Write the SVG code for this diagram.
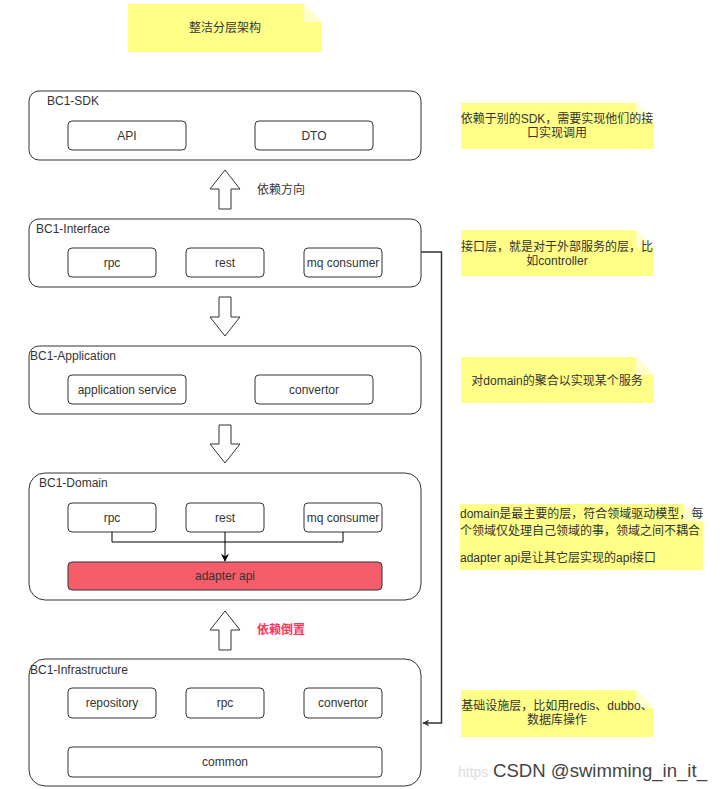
<svg xmlns="http://www.w3.org/2000/svg" width="720" height="789" viewBox="0 0 720 789">
<style>
.t{font-family:"Liberation Sans","Noto Sans CJK SC",sans-serif;font-size:12px;fill:#333;}
.c{text-anchor:middle;dominant-baseline:central;}
.l{dominant-baseline:central;}
.outer{fill:#fff;stroke:#333;stroke-width:1;}
.inner{fill:#fff;stroke:#333;stroke-width:1;}
.note{fill:#ffff88;}
.fold{fill:#ffffcc;}
.harrow{fill:#fff;stroke:#333;stroke-width:1;}
.conn{fill:none;stroke:#333;stroke-width:1.5;}
.conn1{fill:none;stroke:#000;stroke-width:1;}
</style>
<defs>
<marker id="ah" viewBox="0 0 10 10" refX="9" refY="5" markerWidth="7" markerHeight="7" orient="auto" markerUnits="userSpaceOnUse">
<path d="M0,0 L10,5 L0,10 L3,5 Z" fill="#333"/>
</marker>
<marker id="ah2" viewBox="0 0 10 10" refX="9" refY="5" markerWidth="8" markerHeight="8" orient="auto" markerUnits="userSpaceOnUse">
<path d="M0,0 L10,5 L0,10 L3,5 Z" fill="#000"/>
</marker>
</defs>
<rect width="720" height="789" fill="#fff"/>

<g id="title">
<polygon class="note" points="128,4 304,4 322,22 322,52 128,52"/>
<polygon class="fold" points="304,4 322,22 304,22"/>
<text class="t c" x="225" y="28">整洁分层架构</text>
</g>

<g id="sdk">
<rect class="outer" x="29" y="91" width="392" height="69" rx="10"/>
<text class="t l" x="47" y="101">BC1-SDK</text>
<g id="sdk-api"><rect class="inner" x="68" y="121" width="118" height="29" rx="4"/><text class="t c" x="127" y="135.5">API</text></g>
<g id="sdk-dto"><rect class="inner" x="255" y="121" width="118" height="29" rx="4"/><text class="t c" x="314" y="135.5">DTO</text></g>
</g>

<g id="note-sdk">
<polygon class="note" points="461,103 636,103 654,121 654,149 461,149"/>
<polygon class="fold" points="636,103 654,121 636,121"/>
<text class="t c" x="557" y="119">依赖于别的SDK，需要实现他们的接</text>
<text class="t c" x="557" y="133">口实现调用</text>
</g>

<g id="interface">
<rect class="outer" x="29" y="219" width="392" height="68" rx="10"/>
<text class="t l" x="36" y="229">BC1-Interface</text>
<g id="if-rpc"><rect class="inner" x="68" y="248" width="88" height="29" rx="4"/><text class="t c" x="112" y="263">rpc</text></g>
<g id="if-rest"><rect class="inner" x="186" y="248" width="78" height="29" rx="4"/><text class="t c" x="225" y="263">rest</text></g>
<g id="if-mq"><rect class="inner" x="304" y="248" width="78" height="29" rx="4"/><text class="t c" x="343" y="263">mq consumer</text></g>
</g>

<g id="note-interface">
<polygon class="note" points="461,230 636,230 654,248 654,276 461,276"/>
<polygon class="fold" points="636,230 654,248 636,248"/>
<text class="t c" x="557" y="247">接口层，就是对于外部服务的层，比</text>
<text class="t c" x="557" y="261">如controller</text>
</g>

<g id="application">
<rect class="outer" x="29" y="346" width="392" height="68" rx="10"/>
<text class="t l" x="30" y="356">BC1-Application</text>
<g id="app-svc"><rect class="inner" x="68" y="375" width="118" height="29" rx="4"/><text class="t c" x="127" y="390">application service</text></g>
<g id="app-conv"><rect class="inner" x="255" y="375" width="118" height="29" rx="4"/><text class="t c" x="314" y="390">convertor</text></g>
</g>

<g id="note-application">
<polygon class="note" points="461,357 636,357 654,375 654,403 461,403"/>
<polygon class="fold" points="636,357 654,375 636,375"/>
<text class="t c" x="557" y="381">对domain的聚合以实现某个服务</text>
</g>

<g id="domain">
<rect class="outer" x="29" y="473" width="392" height="127" rx="16"/>
<text class="t l" x="39" y="483">BC1-Domain</text>
<g id="dm-rpc"><rect class="inner" x="68" y="503" width="88" height="29" rx="4"/><text class="t c" x="112" y="518">rpc</text></g>
<g id="dm-rest"><rect class="inner" x="186" y="503" width="78" height="29" rx="4"/><text class="t c" x="225" y="518">rest</text></g>
<g id="dm-mq"><rect class="inner" x="304" y="503" width="78" height="29" rx="4"/><text class="t c" x="343" y="518">mq consumer</text></g>
<g id="dm-adapter"><rect x="68" y="562" width="314" height="28" rx="4" fill="#f65d6b" stroke="#333" stroke-width="1"/><text class="t c" x="225" y="576">adapter api</text></g>
</g>

<g id="note-domain">
<polygon class="note" points="460,504 683,504 703,522 703,570 460,570"/>
<polygon class="fold" points="683,504 703,522 683,522"/>
<text class="t l" x="460" y="514">domain是最主要的层，符合领域驱动模型，每</text>
<text class="t l" x="460" y="531">个领域仅处理自己领域的事，领域之间不耦合</text>
<text class="t l" x="460" y="558">adapter api是让其它层实现的api接口</text>
</g>

<g id="infrastructure">
<rect class="outer" x="29" y="659" width="392" height="127" rx="16"/>
<text class="t l" x="30" y="670">BC1-Infrastructure</text>
<g id="inf-repo"><rect class="inner" x="68" y="688" width="88" height="30" rx="4"/><text class="t c" x="112" y="703">repository</text></g>
<g id="inf-rpc"><rect class="inner" x="186" y="688" width="78" height="30" rx="4"/><text class="t c" x="225" y="703">rpc</text></g>
<g id="inf-conv"><rect class="inner" x="304" y="688" width="78" height="30" rx="4"/><text class="t c" x="343" y="703">convertor</text></g>
<g id="inf-common"><rect class="inner" x="68" y="747" width="314" height="30" rx="4"/><text class="t c" x="225" y="762">common</text></g>
</g>

<g id="note-infrastructure">
<polygon class="note" points="461,690 636,690 654,708 654,737 461,737"/>
<polygon class="fold" points="636,690 654,708 636,708"/>
<text class="t c" x="557" y="706">基础设施层，比如用redis、dubbo、</text>
<text class="t c" x="557" y="720">数据库操作</text>
</g>

<g id="connectors">
<polygon class="harrow" points="225,170 240,189 231,189 231,209 219,209 219,189 210,189"/>
<polygon class="harrow" points="219,297 231,297 231,317 240,317 225,336 210,317 219,317"/>
<polygon class="harrow" points="219,425 231,425 231,444 240,444 225,463 210,444 219,444"/>
<polygon class="harrow" points="225,611 240,630 231,630 231,650 219,650 219,630 210,630"/>
<path class="conn" d="M421,252 H441.5 V723 H423" marker-end="url(#ah)"/>
<path class="conn1" d="M112,532 V542 H343 V532"/>
<path class="conn1" d="M225,532 V561" marker-end="url(#ah2)"/>
</g>

<g id="labels">
<text class="t l" x="257" y="190">依赖方向</text>
<text class="t l" x="257" y="630" style="fill:#ff3355;font-weight:bold">依赖倒置</text>
<text class="l" x="458" y="772" style="font-family:'Liberation Sans',sans-serif;font-size:14px;fill:#dddddd">https</text>
<text class="l" x="493" y="771" style="font-family:'Liberation Sans',sans-serif;font-size:18px;fill:#444" textLength="214" lengthAdjust="spacingAndGlyphs">CSDN @swimming_in_it_</text>
</g>
</svg>
